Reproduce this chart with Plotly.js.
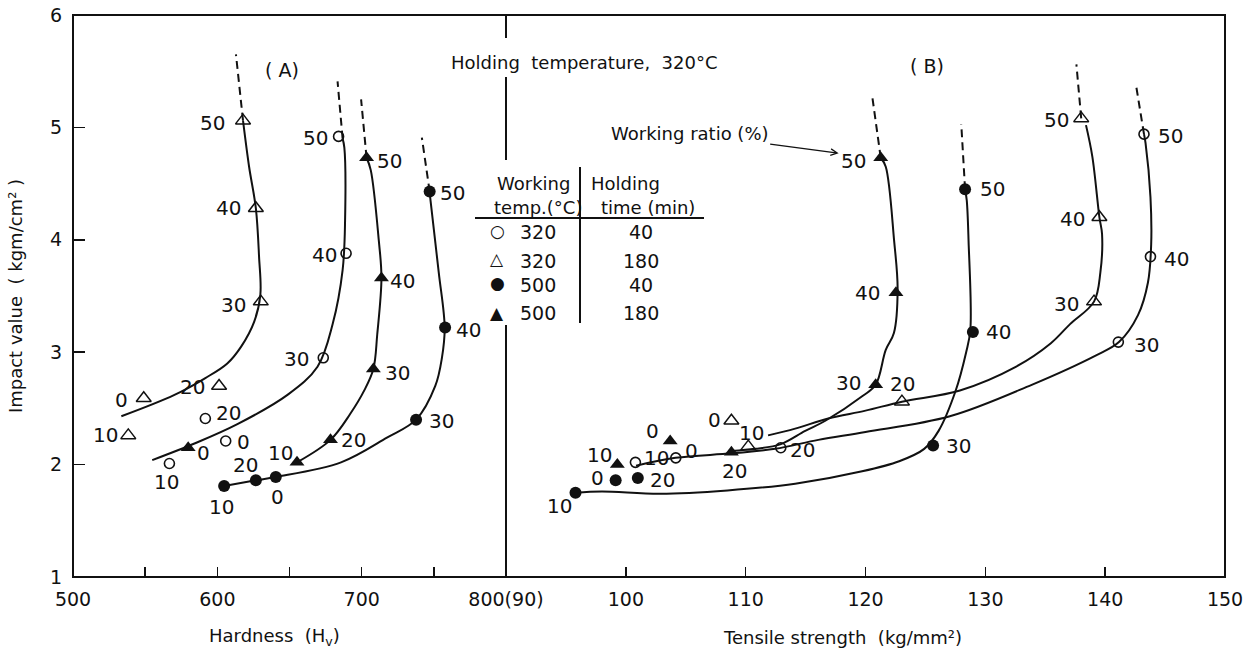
<!DOCTYPE html>
<html>
<head>
<meta charset="utf-8">
<script src="https://cdn.plot.ly/plotly-3.0.1.min.js"></script>
<style>
  html, body { margin: 0; padding: 0; background: #fff; }
  #chart { width: 1255px; height: 650px; }
</style>
</head>
<body>
<div id="chart"></div>
<script>
// Working ratio (%) of each specimen; every series array below follows this order
const ratio = [0, 10, 20, 30, 40, 50];

// (A) Hardness (Hv) and impact value (kgm/cm2), per working temp / holding time
const hvA_320_40   = [605.8, 566.8, 591.7, 673.4, 689.2, 684.0];
const impA_320_40  = [2.21, 2.01, 2.41, 2.95, 3.88, 4.92];
const hvA_320_180  = [549.0, 538.3, 601.2, 630.1, 626.7, 617.8];
const impA_320_180 = [2.59, 2.26, 2.70, 3.45, 4.28, 5.06];
const hvA_500_40   = [640.5, 604.7, 626.7, 737.7, 757.8, 747.1];
const impA_500_40  = [1.89, 1.81, 1.86, 2.40, 3.22, 4.43];
const hvA_500_180  = [579.8, 655.2, 678.4, 708.1, 713.7, 703.4];
const impA_500_180 = [2.15, 2.02, 2.22, 2.85, 3.66, 4.73];

// (B) Tensile strength (kg/mm2) and impact value
const tsB_320_40   = [104.17, 100.80, 112.93, 141.10, 143.78, 143.24];
const impB_320_40  = [2.06, 2.02, 2.15, 3.09, 3.85, 4.94];
const tsB_320_180  = [108.81, 110.22, 123.04, 139.07, 139.52, 138.0];
const impB_320_180 = [2.39, 2.16, 2.56, 3.45, 4.20, 5.08];
const tsB_500_40   = [99.15, 95.80, 101.0, 125.64, 128.96, 128.31];
const impB_500_40  = [1.86, 1.75, 1.88, 2.17, 3.18, 4.45];
const tsB_500_180  = [103.70, 99.29, 108.81, 120.85, 122.54, 121.27];
const impB_500_180 = [2.21, 2.00, 2.11, 2.71, 3.53, 4.73];

// Hand-fitted trend curves (solid) and their extrapolations (dashed)
const fitA_320_40_hv   = [554.9, 584.6, 613.9, 648.6, 669.4, 679.9, 686.8, 688.5, 688.0, 686.8];
const fitA_320_40_imp  = [2.04, 2.19, 2.36, 2.62, 2.87, 3.25, 3.73, 4.17, 4.82, 4.90];
const extA_320_40_hv   = [686.8, 683.3];
const extA_320_40_imp  = [4.90, 5.41];

const fitA_320_180_hv  = [533.5, 570.3, 591.7, 606.9, 616.5, 625.5, 629.8, 628.9, 626.7, 622.0, 617.8];
const fitA_320_180_imp = [2.43, 2.62, 2.77, 2.90, 3.05, 3.27, 3.51, 3.85, 4.28, 4.65, 5.06];
const extA_320_180_hv  = [617.8, 612.9];
const extA_320_180_imp = [5.06, 5.65];

const fitA_500_40_hv   = [604.7, 626.7, 640.5, 685.7, 717.5, 737.7, 751.0, 755.6, 757.5, 753.4, 747.7, 747.1];
const fitA_500_40_imp  = [1.81, 1.86, 1.89, 2.02, 2.24, 2.40, 2.70, 2.95, 3.22, 3.71, 4.35, 4.43];
const extA_500_40_hv   = [747.1, 741.7];
const extA_500_40_imp  = [4.43, 4.91];

const fitA_500_180_hv  = [655.2, 678.4, 692.0, 701.8, 708.1, 710.8, 713.7, 711.9, 706.3, 703.4];
const fitA_500_180_imp = [2.02, 2.22, 2.45, 2.66, 2.85, 3.16, 3.66, 3.99, 4.62, 4.73];
const extA_500_180_hv  = [703.4, 699.6];
const extA_500_180_imp = [4.73, 5.25];

const fitB_320_40_ts   = [100.85, 104.15, 108.83, 112.46, 116.06, 120.0, 127.04, 133.87, 139.2, 141.15, 142.74, 143.57, 143.84, 143.78, 143.37, 143.24];
const fitB_320_40_imp  = [1.99, 2.06, 2.10, 2.14, 2.22, 2.29, 2.43, 2.71, 2.97, 3.09, 3.33, 3.62, 3.96, 4.38, 4.86, 4.94];
const extB_320_40_ts   = [143.24, 142.6];
const extB_320_40_imp  = [4.94, 5.36];

const fitB_320_180_ts  = [111.87, 114.13, 116.89, 120.0, 123.04, 127.88, 132.54, 135.47, 137.07, 139.07, 139.6, 139.74, 139.52, 138.93, 138.4];
const fitB_320_180_imp = [2.26, 2.32, 2.41, 2.48, 2.56, 2.66, 2.87, 3.08, 3.25, 3.45, 3.71, 4.05, 4.20, 4.74, 5.02];
const extB_320_180_ts  = [138.0, 137.6];
const extB_320_180_imp = [5.08, 5.56];

const fitB_500_40_ts   = [95.80, 98.01, 102.87, 108.49, 114.13, 119.72, 122.81, 124.9, 126.1, 127.5, 128.4, 128.75, 128.6, 128.45, 128.31];
const fitB_500_40_imp  = [1.75, 1.76, 1.74, 1.77, 1.83, 1.94, 2.03, 2.14, 2.30, 2.65, 3.00, 3.20, 3.99, 4.35, 4.45];
const extB_500_40_ts   = [128.31, 127.99];
const extB_500_40_imp  = [4.45, 5.03];

const fitB_500_180_ts  = [108.81, 110.78, 112.88, 114.97, 116.65, 119.75, 120.85, 121.69, 122.37, 122.68, 122.39, 121.69, 121.27];
const fitB_500_180_imp = [2.12, 2.14, 2.18, 2.30, 2.39, 2.61, 2.71, 3.02, 3.17, 3.56, 3.99, 4.65, 4.73];
const extB_500_180_ts  = [121.27, 120.57];
const extB_500_180_imp = [4.73, 5.27];

// Axis ticks
const hvTicks     = [500, 600, 700, 800];
const hvTickText  = ['500', '600', '700', '800(90)'];
const tsTicks     = [100, 110, 120, 130, 140, 150];
const tsTickText  = ['100', '110', '120', '130', '140', '150'];
const impTicks    = [1, 2, 3, 4, 5, 6];

// Key table rows
const keyTemp = ['320', '320', '500', '500'];
const keyTime = ['40', '180', '40', '180'];
const keySym  = ['○', '△', '●', '▲'];

// ---- styling / placement ----
const INK = '#111';
const FONT = 'DejaVu Sans, Arial, sans-serif';
const split = 433 / 1152;             // boundary between panels (A) and (B)

// pixel nudges for the working-ratio numbers next to each point: [dx, dy(down)]
const offA_320_40  = [[18,1],[-3,19],[23,-6],[-27,1],[-22,2],[-23,2]];
const offA_320_180 = [[-22,2],[-23,0],[-27,1],[-27,3],[-27,0],[-31,2]];
const offA_500_40  = [[2,20],[-3,21],[-10,-15],[25,1],[23,3],[23,2]];
const offA_500_180 = [[15,5],[-17,-9],[23,0],[24,4],[21,3],[23,3]];
const offB_320_40  = [[16,-7],[21,-4],[22,2],[28,3],[26,2],[27,2]];
const offB_320_180 = [[-17,-1],[3,-14],[1,-18],[-28,2],[-27,2],[-25,2]];
const offB_500_40  = [[-18,-2],[-16,13],[25,2],[25,1],[26,0],[27,0]];
const offB_500_180 = [[-18,-10],[-18,-10],[3,19],[-27,-2],[-28,0],[-27,3]];

const symStyle = {
  '320_40':  {symbol: 'circle-open',      size: 10, line: {width: 1.6, color: INK}},
  '320_180': {symbol: 'triangle-up-open', size: 13, line: {width: 1.5, color: INK}},
  '500_40':  {symbol: 'circle',           size: 12, line: {width: 0, color: INK}},
  '500_180': {symbol: 'triangle-up',      size: 13, line: {width: 0, color: INK}}
};

function curve(xs, ys, xaxis, dashed) {
  return {
    type: 'scatter', mode: 'lines', x: xs, y: ys, xaxis: xaxis, yaxis: 'y',
    line: {color: INK, width: 2, shape: 'spline', smoothing: 1, dash: dashed ? '8px,5px' : 'solid'},
    hoverinfo: 'skip'
  };
}
function points(xs, ys, xaxis, key) {
  return {
    type: 'scatter', mode: 'markers', x: xs, y: ys, xaxis: xaxis, yaxis: 'y',
    marker: Object.assign({color: INK}, symStyle[key]), cliponaxis: false
  };
}
function ratioLabels(xs, ys, xref, offs) {
  return ratio.map((r, i) => ({
    x: xs[i], y: ys[i], xref: xref, yref: 'y', text: String(r), showarrow: false,
    xshift: offs[i][0], yshift: -offs[i][1], font: {family: FONT, size: 20, color: INK}
  }));
}

const traces = [
  curve(fitA_320_40_hv, fitA_320_40_imp, 'x'),   curve(extA_320_40_hv, extA_320_40_imp, 'x', true),
  curve(fitA_320_180_hv, fitA_320_180_imp, 'x'), curve(extA_320_180_hv, extA_320_180_imp, 'x', true),
  curve(fitA_500_40_hv, fitA_500_40_imp, 'x'),   curve(extA_500_40_hv, extA_500_40_imp, 'x', true),
  curve(fitA_500_180_hv, fitA_500_180_imp, 'x'), curve(extA_500_180_hv, extA_500_180_imp, 'x', true),
  curve(fitB_320_40_ts, fitB_320_40_imp, 'x2'),   curve(extB_320_40_ts, extB_320_40_imp, 'x2', true),
  curve(fitB_320_180_ts, fitB_320_180_imp, 'x2'), curve(extB_320_180_ts, extB_320_180_imp, 'x2', true),
  curve(fitB_500_40_ts, fitB_500_40_imp, 'x2'),   curve(extB_500_40_ts, extB_500_40_imp, 'x2', true),
  curve(fitB_500_180_ts, fitB_500_180_imp, 'x2'), curve(extB_500_180_ts, extB_500_180_imp, 'x2', true),
  points(hvA_320_40, impA_320_40, 'x', '320_40'),
  points(hvA_320_180, impA_320_180, 'x', '320_180'),
  points(hvA_500_40, impA_500_40, 'x', '500_40'),
  points(hvA_500_180, impA_500_180, 'x', '500_180'),
  points(tsB_320_40, impB_320_40, 'x2', '320_40'),
  points(tsB_320_180, impB_320_180, 'x2', '320_180'),
  points(tsB_500_40, impB_500_40, 'x2', '500_40'),
  points(tsB_500_180, impB_500_180, 'x2', '500_180')
];

// pixel -> paper helpers for the fixed text blocks
const PX = px => (px - 73) / 1152;
const PY = py => (577 - py) / 562;
const txt = (text, px, py, size, extra) => Object.assign({
  x: PX(px), y: PY(py), xref: 'paper', yref: 'paper', text: text, showarrow: false,
  xanchor: 'center', yanchor: 'middle', font: {family: FONT, size: size, color: INK}
}, extra || {});

const annotations = [].concat(
  ratioLabels(hvA_320_40, impA_320_40, 'x', offA_320_40),
  ratioLabels(hvA_320_180, impA_320_180, 'x', offA_320_180),
  ratioLabels(hvA_500_40, impA_500_40, 'x', offA_500_40),
  ratioLabels(hvA_500_180, impA_500_180, 'x', offA_500_180),
  ratioLabels(tsB_320_40, impB_320_40, 'x2', offB_320_40),
  ratioLabels(tsB_320_180, impB_320_180, 'x2', offB_320_180),
  ratioLabels(tsB_500_40, impB_500_40, 'x2', offB_500_40),
  ratioLabels(tsB_500_180, impB_500_180, 'x2', offB_500_180),
  [
    txt('( A)', 282, 70, 19),
    txt('( B)', 927, 66, 19),
    txt('Holding  temperature,  320°C', 584, 62, 18),
    // callout naming the numbers beside the points, arrow to the 50 % label
    {x: 117.76, y: 4.77, xref: 'x2', yref: 'y', ax: -149, ay: -20, text: 'Working ratio (%)',
     showarrow: true, arrowhead: 5, arrowsize: 1, arrowwidth: 1.3, arrowcolor: INK,
     standoff: 0, startstandoff: 0, font: {family: FONT, size: 18, color: INK}},
    txt('Working', 533, 183, 18),
    txt('temp.(°C)', 538, 207, 18),
    txt('Holding', 625, 183, 18),
    txt('time (min)', 648, 207, 18),
    txt('Hardness  (H<sub>v</sub>)', 274, 637, 18),
    txt('Tensile strength  (kg/mm²)', 842, 637, 18)
  ],
  keySym.map((s, i) => txt(s, 497, [231, 259, 283, 313][i], 17)),
  keyTemp.map((t, i) => txt(t, 538, [232, 261, 285, 313][i], 19)),
  keyTime.map((t, i) => txt(t, 641, [232, 261, 285, 313][i], 19))
);

const shapes = [
  // outer frame
  {type: 'rect', xref: 'paper', yref: 'paper', x0: 0, x1: 1, y0: 0, y1: 1, line: {color: INK, width: 2}},
  // panel separator, interrupted by the heading and the key table
  {type: 'line', xref: 'paper', yref: 'y', x0: split, x1: split, y0: 5.795, y1: 6, line: {color: INK, width: 2}},
  {type: 'line', xref: 'paper', yref: 'y', x0: split, x1: split, y0: 4.71, y1: 5.448, line: {color: INK, width: 2}},
  {type: 'line', xref: 'paper', yref: 'y', x0: split, x1: split, y0: 1, y1: 3.242, line: {color: INK, width: 2}},
  // key table rules
  {type: 'line', xref: 'paper', yref: 'paper', x0: PX(475), x1: PX(704), y0: PY(218), y1: PY(218), line: {color: INK, width: 2}},
  {type: 'line', xref: 'paper', yref: 'paper', x0: PX(580), x1: PX(580), y0: PY(167), y1: PY(323), line: {color: INK, width: 2}}
];

const axisCommon = {
  showgrid: false, zeroline: false, showline: false,
  ticks: 'inside', tickcolor: INK, tickwidth: 1.5,
  tickfont: {family: FONT, size: 19, color: INK}
};

const layout = {
  width: 1255, height: 650,
  margin: {l: 73, r: 30, t: 15, b: 73, pad: 0},
  paper_bgcolor: '#fff', plot_bgcolor: '#fff',
  showlegend: false,
  font: {family: FONT, color: INK},
  xaxis: Object.assign({}, axisCommon, {
    domain: [0, split], range: [500, 800], anchor: 'y',
    tickmode: 'array', tickvals: hvTicks, ticktext: hvTickText, ticklen: 10, ticklabelstandoff: 9,
    minor: {dtick: 50, tick0: 500, ticks: 'inside', ticklen: 10, tickwidth: 1.5, tickcolor: INK, showgrid: false}
  }),
  xaxis2: Object.assign({}, axisCommon, {
    domain: [split, 1], range: [90, 150], anchor: 'y',
    tickmode: 'array', tickvals: tsTicks, ticktext: tsTickText, ticklen: 10, ticklabelstandoff: 9
  }),
  yaxis: Object.assign({}, axisCommon, {
    range: [1, 6], anchor: 'x', tickmode: 'array', tickvals: impTicks, ticklen: 12, ticklabelstandoff: 10,
    title: {text: 'Impact value  ( kgm/cm² )', standoff: 22, font: {family: FONT, size: 18, color: INK}}
  }),
  shapes: shapes,
  annotations: annotations
};

Plotly.newPlot('chart', traces, layout, {displayModeBar: false, staticPlot: true});
</script>
</body>
</html>
